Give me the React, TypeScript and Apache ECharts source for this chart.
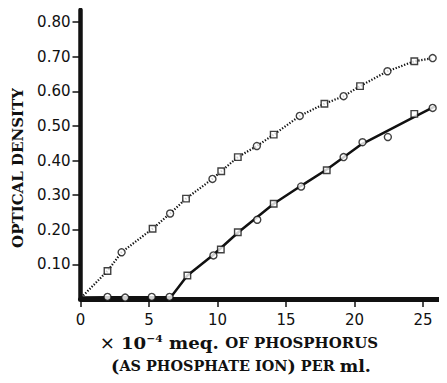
import React, { useEffect, useRef } from "react";
import * as echarts from "echarts";

// Upper (dotted) series
const upperCircles: [number, number][] = [
  [3.0, 0.135], [6.54, 0.247], [9.63, 0.347], [12.87, 0.442], [16.0, 0.529],
  [19.2, 0.586], [22.4, 0.658], [25.7, 0.696],
];
const upperSquares: [number, number][] = [
  [1.97, 0.081], [5.26, 0.203], [7.7, 0.29], [10.27, 0.369], [11.48, 0.41],
  [14.1, 0.475], [17.8, 0.564], [20.4, 0.615], [24.36, 0.687],
];
const upperStart: [number, number] = [0.2, 0.01];

// Lower (solid) series
const lowerCircles: [number, number][] = [
  [1.97, 0.006], [3.26, 0.004], [5.2, 0.006], [6.5, 0.006], [9.7, 0.126],
  [12.9, 0.229], [16.1, 0.325], [19.2, 0.41], [20.58, 0.453], [22.43, 0.468],
  [25.7, 0.552],
];
const lowerSquares: [number, number][] = [
  [7.8, 0.068], [10.24, 0.143], [11.48, 0.193], [14.1, 0.275], [17.97, 0.372],
  [24.36, 0.535],
];
// Fitted solid curve
const lowerCurve: [number, number][] = [
  [0, 0.004], [2, 0.005], [6.6, 0.006], [7.8, 0.068], [9.7, 0.128],
  [11.5, 0.192], [14.1, 0.275], [16.1, 0.327], [18, 0.375], [20.5, 0.447],
  [24.4, 0.527], [25.9, 0.557],
];

const xTicks = [0, 5, 10, 15, 20, 25];
const yTicks = [0.1, 0.2, 0.3, 0.4, 0.5, 0.6, 0.7, 0.8];

const INK = "#111";

export default function App() {
  const ref = useRef<HTMLDivElement>(null);
  useEffect(() => {
    if (!ref.current) return;
    const chart = echarts.init(ref.current, null, { renderer: "svg" });
    const upperCurve = [upperStart, ...upperCircles, ...upperSquares].sort(
      (a, b) => a[0] - b[0]
    );
    const markerStyle = { color: "#fff", borderColor: INK, borderWidth: 1.4 };
    const serif = "DejaVu Serif";
    chart.setOption({
      animation: false,
      backgroundColor: "#fff",
      grid: { left: 80.5, right: 2, top: 10, bottom: 84 },
      xAxis: {
        type: "value",
        min: 0,
        max: 26.6,
        interval: 5,
        splitLine: { show: false },
        axisLine: { lineStyle: { color: INK, width: 5 } },
        axisTick: { customValues: xTicks, length: 8, lineStyle: { color: INK, width: 1.5 } },
        axisLabel: {
          customValues: xTicks,
          margin: 13,
          color: INK,
          fontFamily: "DejaVu Sans",
          fontSize: 15,
        },
      },
      yAxis: {
        type: "value",
        min: 0,
        max: 0.835,
        interval: 0.1,
        splitLine: { show: false },
        axisLine: { onZero: false, lineStyle: { color: INK, width: 4.5 } },
        axisTick: { customValues: yTicks, length: 8, lineStyle: { color: INK, width: 1.5 } },
        axisLabel: {
          customValues: yTicks,
          margin: 10,
          color: INK,
          fontFamily: "DejaVu Sans",
          fontSize: 15,
          formatter: (v: number) => v.toFixed(2),
        },
      },
      series: [
        {
          type: "line",
          data: upperCurve,
          symbol: "none",
          lineStyle: { color: INK, width: 2.2, type: [1.3, 1.7] },
          z: 2,
        },
        {
          type: "line",
          data: lowerCurve,
          symbol: "none",
          lineStyle: { color: INK, width: 2.5 },
          z: 2,
        },
        { type: "scatter", data: upperCircles, symbol: "circle", symbolSize: 7, itemStyle: markerStyle, z: 3 },
        { type: "scatter", data: upperSquares, symbol: "rect", symbolSize: 6.5, itemStyle: markerStyle, z: 3 },
        { type: "scatter", data: lowerCircles, symbol: "circle", symbolSize: 7, itemStyle: markerStyle, z: 3 },
        { type: "scatter", data: lowerSquares, symbol: "rect", symbolSize: 6.5, itemStyle: markerStyle, z: 3 },
      ],
      graphic: [
        {
          type: "text",
          x: 18,
          y: 168,
          rotation: Math.PI / 2,
          style: {
            text: "OPTICAL DENSITY",
            fill: INK,
            font: `bold 15px "${serif}"`,
            textAlign: "center",
            textVerticalAlign: "middle",
          },
        },
        {
          type: "text",
          x: 239,
          y: 343,
          scaleX: 1.07,
          style: {
            text: "{x|× }{b|10}{sup|−4}{b| meq. }{d|OF PHOSPHORUS}",
            fill: INK,
            textAlign: "center",
            textVerticalAlign: "middle",
            rich: {
              x: { fontFamily: "DejaVu Sans", fontSize: 17, fill: INK },
              b: { fontFamily: serif, fontWeight: "bold", fontSize: 17, fill: INK },
              sup: { fontFamily: serif, fontWeight: "bold", fontSize: 10, fill: INK, padding: [0, 0, 10, 0] },
              d: { fontFamily: serif, fontWeight: "bold", fontSize: 14, fill: INK },
            },
          },
        },
        {
          type: "text",
          x: 241,
          y: 366,
          scaleX: 1.03,
          style: {
            text: "{p|(}{d|AS PHOSPHATE ION}{p|)}{d| PER }{b|ml.}",
            fill: INK,
            textAlign: "center",
            textVerticalAlign: "middle",
            rich: {
              p: { fontFamily: serif, fontWeight: "bold", fontSize: 17, fill: INK },
              b: { fontFamily: serif, fontWeight: "bold", fontSize: 17, fill: INK },
              d: { fontFamily: serif, fontWeight: "bold", fontSize: 14, fill: INK },
            },
          },
        },
      ],
    });
    return () => chart.dispose();
  }, []);
  return <div ref={ref} style={{ width: 447, height: 383, margin: -8 }} />;
}
